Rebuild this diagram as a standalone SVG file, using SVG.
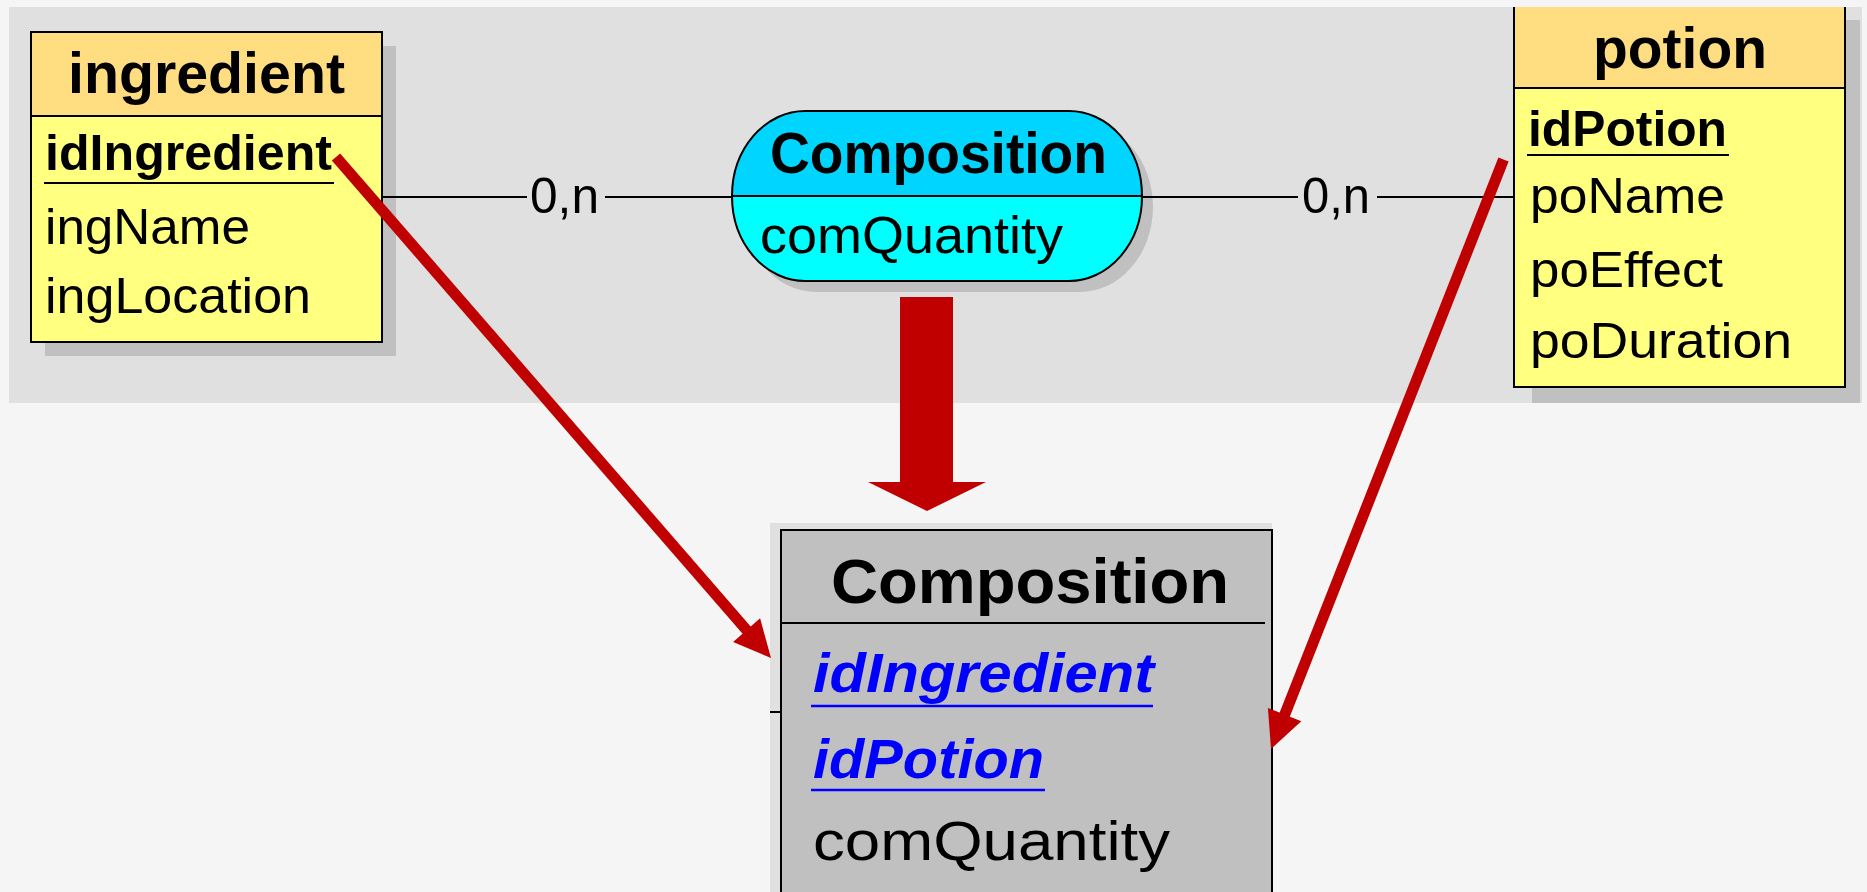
<svg xmlns="http://www.w3.org/2000/svg" width="1867" height="892" viewBox="0 0 1867 892">
<style>
.t{font-family:"Liberation Sans",Arial,sans-serif;fill:#000}
.b{font-weight:bold}
.title{font-size:57px;font-weight:bold}
.row{font-size:50px}
.box{stroke:#000;stroke-width:2}
.shadow{fill:#c0c0c0}
.conn{stroke:#000;stroke-width:2;fill:none}
.red{stroke:#c00000;stroke-width:11;fill:none}
.redf{fill:#c00000}
.fk{font-size:56px;font-weight:bold;font-style:italic;fill:#0000ff}
</style>
<defs>
<clipPath id="panelClip"><rect x="9" y="7" width="1853" height="396"/></clipPath>
<clipPath id="stadium"><rect x="732" y="111" width="410" height="170" rx="73" ry="85"/></clipPath>
</defs>
<rect x="0" y="0" width="1867" height="892" fill="#f5f5f5"/>
<rect id="panel" x="9" y="7" width="1853" height="396" fill="#e0e0e0"/>
<rect x="770" y="523" width="502" height="369" fill="#e0e0e0"/>

<g id="ingredient">
<rect class="shadow" x="45" y="46" width="351" height="310"/>
<rect x="31" y="32" width="351" height="84" fill="#ffdd80"/>
<rect x="31" y="116" width="351" height="226" fill="#ffff80"/>
<rect class="box" x="31" y="32" width="351" height="310" fill="none"/>
<line class="box" x1="31" y1="116" x2="382" y2="116"/>
<text class="t title" x="68" y="93" textLength="277" lengthAdjust="spacingAndGlyphs">ingredient</text>
<text class="t row b" x="45" y="170" textLength="287" lengthAdjust="spacingAndGlyphs">idIngredient</text>
<line x1="44" y1="183" x2="334" y2="183" stroke="#000" stroke-width="2"/>
<text class="t row" x="45" y="244" textLength="205" lengthAdjust="spacingAndGlyphs">ingName</text>
<text class="t row" x="45" y="313" textLength="266" lengthAdjust="spacingAndGlyphs">ingLocation</text>
</g>

<g id="potion" clip-path="url(#panelClip)">
<rect class="shadow" x="1532" y="20" width="328" height="383"/>
<rect x="1514" y="4" width="331" height="84" fill="#ffdd80"/>
<rect x="1514" y="88" width="331" height="299" fill="#ffff80"/>
<rect class="box" x="1514" y="4" width="331" height="383" fill="none"/>
<line class="box" x1="1514" y1="88" x2="1845" y2="88"/>
<text class="t title" x="1593" y="68" textLength="174" lengthAdjust="spacingAndGlyphs">potion</text>
<text class="t row b" x="1528" y="146" textLength="199" lengthAdjust="spacingAndGlyphs">idPotion</text>
<line x1="1527" y1="155" x2="1729" y2="155" stroke="#000" stroke-width="2"/>
<text class="t row" x="1530" y="213" textLength="195" lengthAdjust="spacingAndGlyphs">poName</text>
<text class="t row" x="1530" y="287" textLength="193" lengthAdjust="spacingAndGlyphs">poEffect</text>
<text class="t row" x="1530" y="358" textLength="262" lengthAdjust="spacingAndGlyphs">poDuration</text>
</g>

<g id="composition-association">
<rect class="shadow" x="743" y="122" width="410" height="170" rx="73" ry="85"/>
<g clip-path="url(#stadium)">
<rect x="732" y="111" width="410" height="85" fill="#00d5ff"/>
<rect x="732" y="196" width="410" height="85" fill="#00ffff"/>
</g>
<rect class="box" x="732" y="111" width="410" height="170" rx="73" ry="85" fill="none"/>
<line class="box" x1="732" y1="196" x2="1142" y2="196"/>
<text class="t title" x="770" y="173" textLength="337" lengthAdjust="spacingAndGlyphs">Composition</text>
<text class="t" x="760" y="253" font-size="52" textLength="303" lengthAdjust="spacingAndGlyphs">comQuantity</text>
</g>

<g id="composition-table">
<rect class="box" x="781" y="530" width="491" height="380" fill="#c0c0c0"/>
<line class="box" x1="781" y1="623" x2="1265" y2="623"/>
<text class="t b" x="831" y="603" font-size="63" textLength="398" lengthAdjust="spacingAndGlyphs">Composition</text>
<text class="t fk" x="813" y="692" textLength="341" lengthAdjust="spacingAndGlyphs">idIngredient</text>
<line x1="811" y1="706" x2="1153" y2="706" stroke="#0000ff" stroke-width="2.5"/>
<text class="t fk" x="813" y="778" textLength="231" lengthAdjust="spacingAndGlyphs">idPotion</text>
<line x1="811" y1="790" x2="1045" y2="790" stroke="#0000ff" stroke-width="2.5"/>
<text class="t" x="813" y="860" font-size="56" textLength="357" lengthAdjust="spacingAndGlyphs">comQuantity</text>
</g>

<g id="connectors">
<line class="conn" x1="382" y1="197" x2="527" y2="197"/>
<line class="conn" x1="605" y1="197" x2="732" y2="197"/>
<text class="t" x="530" y="213" font-size="50" textLength="69" lengthAdjust="spacingAndGlyphs">0,n</text>
<line class="conn" x1="1142" y1="197" x2="1298" y2="197"/>
<line class="conn" x1="1377" y1="197" x2="1514" y2="197"/>
<text class="t" x="1302" y="213" font-size="50" textLength="68" lengthAdjust="spacingAndGlyphs">0,n</text>
<line class="conn" x1="770" y1="712" x2="781" y2="712"/>
<polygon class="redf" points="900,297 953,297 953,482 986,482 927,511 868,482 900,482"/>
<line class="red" x1="336" y1="157" x2="750" y2="634"/>
<polygon class="redf" points="771,658 733.1,642.1 760.1,618.3"/>
<line class="red" x1="1503.5" y1="159.5" x2="1283" y2="719"/>
<polygon class="redf" points="1271,749 1301.3,721.2 1267.9,708"/>
</g>
</svg>
